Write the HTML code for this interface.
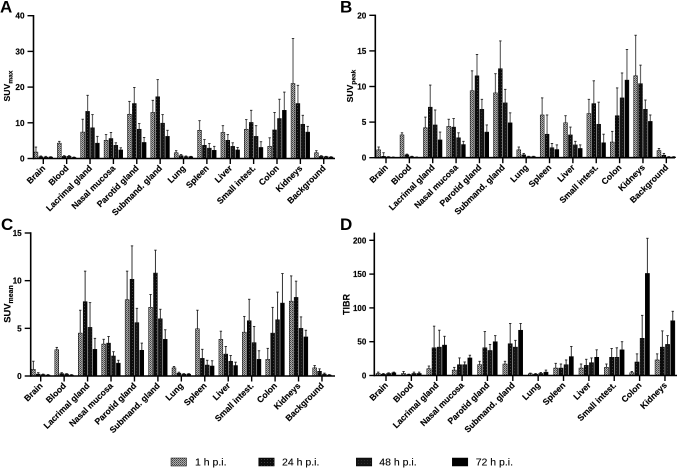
<!DOCTYPE html>
<html>
<head>
<meta charset="utf-8">
<style>
html,body{margin:0;padding:0;background:#fff;}
#stage{display:block;width:677px;height:468px;font-family:"Liberation Sans",sans-serif;}
</style>
</head>
<body>
<svg id="stage" xmlns="http://www.w3.org/2000/svg" width="677" height="468" viewBox="0 0 677 468">
<defs>
<pattern id="p1" width="2" height="2" patternUnits="userSpaceOnUse"><rect width="2" height="2" fill="#adadad"/><rect width="1" height="1" fill="#444"/><rect x="1" y="1" width="1" height="1" fill="#666"/></pattern>
<pattern id="p2" width="3" height="3" patternUnits="userSpaceOnUse"><rect width="3" height="3" fill="#0c0c0c"/><rect width="1" height="1" fill="#3a3a3a"/></pattern>
<pattern id="p3" width="3" height="3" patternUnits="userSpaceOnUse"><rect width="3" height="3" fill="#141414"/><rect x="1" y="1" width="1" height="1" fill="#2c2c2c"/></pattern>
<pattern id="p4" width="3" height="3" patternUnits="userSpaceOnUse"><rect width="3" height="3" fill="#000"/></pattern>
</defs>
<g id="panels"></g>
<g id="legend"></g>
</svg>
<script>
const categories = ["Brain","Blood","Lacrimal gland","Nasal mucosa","Parotid gland","Submand. gland","Lung","Spleen","Liver","Small intest.","Colon","Kidneys","Background"];
const seriesNames = ["1 h p.i.","24 h p.i.","48 h p.i.","72 h p.i."];

const suvMaxTicks = [0,10,20,30,40];
const suvMaxValues = [[1.8,.5,.4,.4],[4.3,.6,.6,.3],[7.4,13.2,8.6,4.3],[5.1,5.6,3.7,2.4],[12.4,15.4,8.2,4.5],[12.9,17.3,9.9,6.2],[1.6,.8,.5,.5],[7.9,3.7,2.9,2.3],[7.3,5.1,3.4,2.4],[8.2,10.1,6.2,3.1],[3.4,8,11.2,13.5],[21,15.4,9.6,7.4],[1.6,.6,.5,.4]];
const suvMaxUpper = [[3.2,.7,.6,.5],[4.8,.8,.8,.4],[11,17.7,12.3,6.2],[6.7,7.3,4.4,3],[16,19.9,9.8,5.9],[16.3,22.1,12.3,7.9],[2.2,1.1,.7,.6],[10.6,5.3,4.2,3.4],[9.2,6.7,4.4,3.1],[10.9,13.5,9.2,4.7],[5.8,12.9,16.6,18.6],[33.6,20.5,12.1,9],[2.2,.8,.6,.5]];

const suvPeakTicks = [0,5,10,15,20];
const suvPeakValues = [[1.1,.2,.1,.05],[3.2,.4,.15,.05],[4.2,7.1,4.6,2.5],[4.4,4.3,2.8,1.85],[9.4,11.5,6.8,3.6],[9.1,12.5,7.7,4.9],[1.1,.4,.15,.15],[6,3.3,1.4,1.15],[4.9,3.2,1.8,1.3],[6.2,7.6,4.7,2.1],[2.2,5.9,8.4,10.9],[11.5,10.4,6.8,5.1],[1,.35,.1,.1]];
const suvPeakUpper = [[1.5,.7,.15,.1],[3.5,.5,.2,.1],[5.7,10.2,6.7,3.6],[5.4,5.5,3.5,2.3],[12.2,14.5,8.2,4.6],[11.8,16.4,9.6,6.3],[1.5,.6,.2,.2],[8.4,6,2,1.8],[5.9,4.3,2.3,1.8],[8.2,10.8,7.8,3.3],[3.7,9.8,11.9,15.2],[17.2,13,8.1,6],[1.3,.6,.15,.15]];

const suvMeanTicks = [0,5,10,15];
const suvMeanValues = [[.7,.2,.15,.1],[2.75,.25,.2,.1],[4.5,7.8,5.1,2.8],[3.35,3.45,2.1,1.35],[8,10.15,5.6,2.7],[7.2,10.8,6,3.85],[.85,.3,.2,.2],[4.95,1.85,1.15,1.05],[3.85,2.3,1.55,1.1],[4.6,5.8,3.5,1.75],[1.75,4.5,5.9,7.65],[7.85,8.25,5,4.1],[.85,.5,.2,.1]];
const suvMeanUpper = [[1.55,.35,.2,.15],[3,.35,.25,.15],[6.9,11,7.7,3.95],[3.85,4.15,2.55,1.65],[11,13.65,7.1,3.45],[8.55,13.2,7,4.85],[1,.4,.25,.25],[6.9,2.8,1.65,1.6],[4.7,3.1,2.15,1.45],[6.25,8.05,5.2,2.65],[2.9,7.2,8.8,10.75],[10.5,9.95,6.2,4.8],[1.1,.75,.3,.15]];

const tibrTicks = [0,50,100,150,200];
const tibrValues = [[3,2,3,4],[3,1.5,3,3],[10,41,42,45],[8,16,16,26],[16,41,37,50],[17,47,42,67],[2.5,2,3,5],[11,11,16,28],[11,15,19,27],[12,27,27,38],[4,20,55,151],[23,42,46,81]];
const tibrUpper = [[5,3,4,5],[6,2,5,5],[14,73,67,58],[12,26,20,30],[21,65,46,59],[21,77,52,77],[3.5,3,4.5,8],[18,17,23,43],[17,24,26,38],[17,40,41,50],[6,32,89,203],[32,66,59,95]];

const panelLayouts = [
  {key:"a",letter:"A",letterX:0,letterY:12.7,axisX:33.5,firstTick:43.3,step:23.37,y0:158.5,yTop:15.7,max:40,end:335,title:"SUV",sub:"max",titleSize:8.6,subSize:6.6,titleX:10,titleY:86,ticks:suvMaxTicks,vals:suvMaxValues,ups:suvMaxUpper,barStep:4.9,errColor:"#666",errWidth:1.2,tickLen:6,labelGap:9,labelSize:8.2},
  {key:"b",letter:"B",letterX:340,letterY:12.7,axisX:375.3,firstTick:386,step:23.36,y0:157.7,yTop:15.3,max:20,end:675,title:"SUV",sub:"peak",titleSize:8.6,subSize:6.6,titleX:353,titleY:86,ticks:suvPeakTicks,vals:suvPeakValues,ups:suvPeakUpper,barStep:4.9,errColor:"#666",errWidth:1.2,tickLen:6,labelGap:9,labelSize:8.2},
  {key:"c",letter:"C",letterX:1,letterY:230,axisX:30.7,firstTick:40.7,step:23.44,y0:376,yTop:233,max:15,end:335,title:"SUV",sub:"mean",titleSize:9.4,subSize:7,titleX:10.5,titleY:304,ticks:suvMeanTicks,vals:suvMeanValues,ups:suvMeanUpper,barStep:4.9,errColor:"#333",errWidth:1,tickLen:6,labelGap:9,labelSize:8.2},
  {key:"d",letter:"D",letterX:340,letterY:230,axisX:374.3,firstTick:386,step:25.36,y0:375.5,yTop:240.3,max:200,end:677,title:"TIBR",sub:"",titleSize:9,subSize:0,titleX:349.5,titleY:304.5,ticks:tibrTicks,vals:tibrValues,ups:tibrUpper,barStep:5.2,axisTop:233.3,errColor:"#333",errWidth:1,tickLen:5,labelGap:8,labelSize:8}
];

const NS = "http://www.w3.org/2000/svg";
function mk(parent, tag, attrs, text) {
  const el = document.createElementNS(NS, tag);
  for (const k in attrs) el.setAttribute(k, attrs[k]);
  if (text !== undefined) el.textContent = text;
  parent.appendChild(el);
  return el;
}
function xPos(p, c, s) { return p.firstTick + c * p.step + (s - 1.5) * p.barStep; }
function yPos(p, v) { return p.y0 - (v / p.max) * (p.y0 - p.yTop); }
const fills = ["url(#p1)","url(#p2)","url(#p3)","url(#p4)"];
const root = document.getElementById("panels");

panelLayouts.forEach(function (p) {
  const g = mk(root, "g", {});
  
  

  const letter = mk(g, "text", {x:p.letterX, y:p.letterY, "font-size":17, "font-weight":"bold", fill:"#000"}, p.letter);
  
  

  const barW = p.barStep - 1;
  p.vals.forEach(function (row, c) {
    row.forEach(function (v, s) {
      const cx = xPos(p, c, s);
      const topY = yPos(p, p.ups[c][s]);
      const err = mk(g, "path", {d:"M"+cx+" "+yPos(p, v)+"V"+topY, stroke:p.errColor, "stroke-width":p.errWidth, fill:"none"});
      
      
      const cap = mk(g, "path", {d:"M"+(cx-1.2)+" "+topY+"H"+(cx+1.2), stroke:"#222", "stroke-width":0.9, fill:"none"});
      
      
      const bar = mk(g, "rect", {x:cx-barW/2, y:yPos(p, v), width:barW, height:Math.max(p.y0-yPos(p, v),0), fill:fills[s], stroke:"#000", "stroke-width":0.5});
      
      
    });
  });

  const yAxis = mk(g, "line", {x1:p.axisX, x2:p.axisX, y1:(p.axisTop||p.yTop)-0.7, y2:p.y0+0.8, stroke:"#000", "stroke-width":1.6});
  
  
  const xAxis = mk(g, "line", {x1:p.axisX, x2:p.end, y1:p.y0, y2:p.y0, stroke:"#000", "stroke-width":1.6});
  
  

  p.ticks.forEach(function (t) {
    const y = yPos(p, t);
    const tick = mk(g, "line", {x1:p.axisX-p.tickLen, x2:p.axisX, y1:y, y2:y, stroke:"#000", "stroke-width":1.4});
    
    
    const lab = mk(g, "text", {x:p.axisX-p.labelGap, y:y+3, "text-anchor":"end", "font-size":p.labelSize, "font-weight":"bold", fill:"#000", stroke:"#000", "stroke-width":0.15}, t);
    
    
  });

  p.vals.forEach(function (row, c) {
    const x = p.firstTick + c * p.step;
    const tick = mk(g, "line", {x1:x, x2:x, y1:p.y0, y2:p.y0+5.5, stroke:"#000", "stroke-width":1.4});
    
    
    const lx = x + 2.5, ly = p.y0 + 10.3;
    const lab = mk(g, "text", {x:lx, y:ly, "text-anchor":"end", "font-size":8.6, "font-weight":"bold", fill:"#000", stroke:"#000", "stroke-width":0.15, transform:"rotate(-45 "+lx+" "+ly+")"}, categories[c]);
    
    
  });

  const title = mk(g, "text", {x:p.titleX, y:p.titleY, "text-anchor":"middle", "font-size":p.titleSize, "font-weight":"bold", fill:"#000", stroke:"#000", "stroke-width":0.15, transform:"rotate(-90 "+p.titleX+" "+p.titleY+")"}, p.title);
  
  
  if (p.sub) {
    const sub = mk(title, "tspan", {dy:2.4, "font-size":p.subSize}, p.sub);
    
    
  }
});

const legendSwatchX = [171, 258.7, 356.3, 452.3];
const legendTextX = [195, 282, 379.3, 475.7];
const legendRoot = document.getElementById("legend");
seriesNames.forEach(function (name, s) {
  const sw = mk(legendRoot, "rect", {x:legendSwatchX[s], y:458, width:15.5, height:8, fill:fills[s], stroke:"#000", "stroke-width":0.5});
  
  
  const tx = mk(legendRoot, "text", {x:legendTextX[s], y:465.5, "font-size":10.5, fill:"#000", stroke:"#000", "stroke-width":0.12}, name);
  
  
});
</script>
</body>
</html>
